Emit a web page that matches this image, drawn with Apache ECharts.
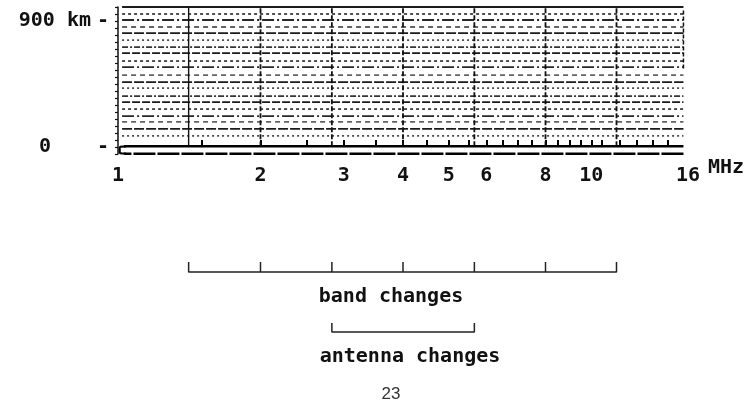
<!DOCTYPE html>
<html>
<head>
<meta charset="utf-8">
<script src="https://cdn.jsdelivr.net/npm/echarts@6/dist/echarts.min.js"></script>
<style>html,body{margin:0;padding:0;background:#fff;}#c{width:751px;height:414px;}</style>
</head>
<body>
<div id="c"></div>
<script>
// ---- data ----
const freqLabels = [1, 2, 3, 4, 5, 6, 8, 10, 16];           // MHz tick labels
const markerFreqs = [1.5, 2, 2.5, 3, 3.5, 4, 4.5, 5, 5.5, 6, 6.5, 7, 7.5, 8, 8.5, 9, 9.5, 10, 10.5, 11.5, 12.5, 13.5, 14.5]; // frequency markers on the zero line
const heightLabels = [0, 900];                               // km tick labels
const heightTicks = [-50, 0, 50, 100, 150, 200, 250, 300, 350, 400, 450, 500, 550, 600, 650, 700, 750, 800, 850, 900, 950, 1000];
const stripeHeights = [1000, 950, 907, 857, 814, 764, 714, 671, 614, 571, 514, 464, 421, 364, 321, 271, 221, 179, 129, 79]; // km
const bandEdges = [1.41, 2.0, 2.83, 4.0, 5.66, 8.0, 11.3];   // MHz, band changes
const antennaEdges = [2.83, 5.66];                           // MHz, antenna changes
const fStart = 1.0, fEnd = 15.65;                            // sweep range (MHz)
const zeroEcho = 5, baseEcho = -48;                          // km

const dashStyles = [[8,2],[3,3],[12,3,2,3],[5,4],[10,2],[2,3],[6,2,2,2]];
const alphas = [0.95,0.8,0.9,0.65,0.95,0.75,0.85];

const series = [];
stripeHeights.forEach((h, i) => {
  series.push({
    type: 'line', xAxisIndex: 0, yAxisIndex: 0, silent: true, symbol: 'none',
    data: [[fStart + 0.02, h], [fEnd, h]],
    lineStyle: { color: 'rgba(15,15,15,' + alphas[i % alphas.length] + ')', width: i === 0 ? 2.2 : 1.8, type: i === 0 ? 'solid' : dashStyles[i % dashStyles.length] }
  });
});
bandEdges.forEach((f, i) => {
  series.push({
    type: 'line', xAxisIndex: 0, yAxisIndex: 0, silent: true, symbol: 'none',
    data: [[f, zeroEcho], [f, 1000]],
    lineStyle: { color: '#111', width: i === 0 ? 1.4 : 1.8, type: i === 0 ? 'solid' : [5, 2] }
  });
});
// right border (partial)
series.push({ type: 'line', xAxisIndex: 0, yAxisIndex: 0, silent: true, symbol: 'none',
  data: [[fEnd, 560], [fEnd, 985]], lineStyle: { color: '#111', width: 1.5, type: [4, 2] } });
// zero-height echo and base line with the loop at start
series.push({ type: 'line', xAxisIndex: 0, yAxisIndex: 0, silent: true, symbol: 'none',
  data: [[fEnd, zeroEcho], [1.03, zeroEcho]], lineStyle: { color: '#000', width: 2.6 } });
series.push({ type: 'line', xAxisIndex: 0, yAxisIndex: 0, silent: true, symbol: 'none',
  data: [[fEnd, baseEcho], [1.03, baseEcho]], lineStyle: { color: '#000', width: 2.4, type: [22, 2] } });
series.push({ type: 'line', xAxisIndex: 0, yAxisIndex: 0, silent: true, symbol: 'none', smooth: true,
  data: [[1.04, zeroEcho], [1.012, zeroEcho - 3], [1.008, (zeroEcho + baseEcho) / 2], [1.012, baseEcho + 3], [1.04, baseEcho]],
  lineStyle: { color: '#000', width: 2.2 } });

// brackets
function bracket(edges, level, tick) {
  const d = [];
  edges.forEach((e, i) => {
    if (i === 0) { d.push([e, level + tick]); d.push([e, level]); }
    else { d.push([e, level]); d.push([e, level + tick]); d.push([e, level]); }
  });
  return d;
}
series.push({ type: 'line', xAxisIndex: 1, yAxisIndex: 1, silent: true, symbol: 'none',
  data: bracket(bandEdges, 62, 10), lineStyle: { color: '#222', width: 1.5 } });
series.push({ type: 'line', xAxisIndex: 1, yAxisIndex: 1, silent: true, symbol: 'none',
  data: bracket(antennaEdges, 2, 9), lineStyle: { color: '#222', width: 1.5 } });

const mono = '"DejaVu Sans Mono", "Liberation Mono", monospace';
const fs = 20;

const option = {
  animation: false,
  backgroundColor: '#fff',
  grid: [
    { left: 118, right: 63, top: 7, bottom: 260 },
    { left: 118, right: 63, top: 260, height: 74 }
  ],
  xAxis: [
    {
      type: 'log', logBase: 10, min: 1, max: 16, gridIndex: 0,
      axisLine: { show: false },
      axisTick: { show: true, inside: true, length: 7, customValues: markerFreqs, lineStyle: { color: '#000', width: 2 } },
      minorTick: { show: false },
      splitLine: { show: false },
      axisLabel: {
        customValues: freqLabels, margin: 12, color: '#111',
        fontFamily: mono, fontSize: fs, fontWeight: 'bold',
        formatter: v => String(Math.round(v))
      },
      name: 'MHz', nameLocation: 'end', nameGap: 20,
      nameTextStyle: { fontFamily: mono, fontSize: fs, fontWeight: 'bold', color: '#111', verticalAlign: 'top', padding: [11, 0, 0, 0] }
    },
    { type: 'log', logBase: 10, min: 1, max: 16, gridIndex: 1, show: false }
  ],
  yAxis: [
    {
      type: 'value', min: -50, max: 1000, gridIndex: 0,
      axisLine: { show: true, lineStyle: { color: '#111', width: 1.5 } },
      axisTick: { show: true, length: 3, customValues: heightTicks, lineStyle: { color: '#111', width: 1.2 } },
      splitLine: { show: false },
      axisLabel: {
        customValues: heightLabels, margin: 9, color: '#111',
        formatter: v => v === 900 ? '{a|900 km}{t|-}' : '{a|0}{u|-}',
        rich: {
          a: { fontFamily: mono, fontSize: fs, fontWeight: 'bold', color: '#111' },
          t: { fontFamily: mono, fontSize: fs, fontWeight: 'bold', color: '#111', padding: [0, 0, 0, 6] },
          u: { fontFamily: mono, fontSize: fs, fontWeight: 'bold', color: '#111', padding: [0, 0, 0, 46] }
        }
      }
    },
    { type: 'value', min: 0, max: 74, gridIndex: 1, show: false }
  ],
  graphic: [
    { type: 'text', style: { text: 'band changes', x: 391, y: 297, align: 'center', verticalAlign: 'middle', font: 'bold ' + fs + 'px ' + mono, fill: '#111' } },
    { type: 'text', style: { text: 'antenna changes', x: 410, y: 357, align: 'center', verticalAlign: 'middle', font: 'bold ' + fs + 'px ' + mono, fill: '#111' } },
    { type: 'text', style: { text: '23', x: 391, y: 394, align: 'center', verticalAlign: 'middle', font: '17px "Liberation Sans", sans-serif', fill: '#333' } }
  ],
  series: series
};
echarts.init(document.getElementById('c'), null, { renderer: 'canvas' }).setOption(option);
</script>
</body>
</html>
